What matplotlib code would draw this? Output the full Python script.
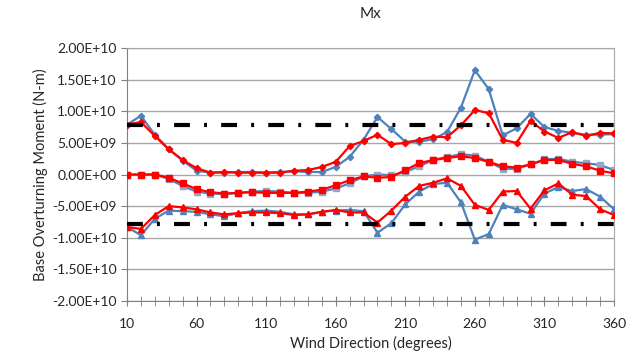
import numpy as np
import matplotlib.pyplot as plt
from matplotlib.ticker import FuncFormatter, MultipleLocator, FixedLocator

plt.rcParams['font.family'] = ['Lato', 'DejaVu Sans']

direction = list(range(10, 361, 10))

# maxima (diamonds)
max_blue = [7.9, 9.3, 6.3, 4.0, 2.2, 0.6, 0.3, 0.3, 0.4, 0.4, 0.3, 0.4,
            0.5, 0.4, 0.4, 1.2, 2.8, 5.5, 9.1, 7.2, 5.2, 5.2, 5.6, 6.7,
            10.6, 16.5, 13.5, 6.2, 7.3, 9.6, 7.5, 6.9, 6.6, 6.3, 6.3, 6.4]
max_red = [7.9, 8.3, 6.1, 4.0, 2.3, 1.0, 0.3, 0.4, 0.3, 0.3, 0.3, 0.3,
           0.6, 0.7, 1.2, 2.0, 4.5, 5.3, 6.3, 4.8, 5.0, 5.5, 6.0, 5.9,
           7.8, 10.2, 9.7, 5.5, 5.0, 8.5, 6.8, 5.8, 6.7, 6.1, 6.6, 6.5]

# means (squares)
mean_blue = [0.0, 0.0, 0.0, -0.7, -1.8, -2.7, -3.0, -3.1, -2.9, -2.7, -2.6, -2.7,
             -2.9, -2.9, -2.7, -2.2, -1.4, -0.3, 0.0, -0.1, 0.4, 1.3, 2.3, 2.8,
             3.2, 3.0, 2.0, 0.9, 0.9, 1.6, 2.4, 2.5, 2.0, 1.8, 1.5, 0.7]
mean_red = [0.0, 0.0, 0.0, -0.5, -1.4, -2.3, -2.8, -3.0, -2.9, -2.8, -2.9, -2.9,
            -2.9, -2.7, -2.4, -1.7, -0.9, -0.3, -0.5, -0.4, 0.7, 1.8, 2.3, 2.6,
            2.9, 2.6, 2.0, 1.3, 1.1, 1.6, 2.3, 2.3, 1.7, 1.3, 0.6, 0.2]

# minima (triangles)
min_blue = [-8.3, -9.6, -7.0, -5.7, -5.8, -5.9, -6.3, -6.6, -6.1, -5.8, -5.7, -5.9,
            -6.3, -6.3, -5.9, -5.7, -5.6, -5.8, -9.2, -7.7, -4.7, -2.7, -1.5, -1.3,
            -4.4, -10.3, -9.4, -4.8, -5.5, -6.2, -3.0, -2.0, -2.6, -2.3, -3.5, -5.5]
min_red = [-8.3, -8.6, -6.4, -5.0, -5.2, -5.5, -6.0, -6.3, -6.1, -6.0, -6.0, -6.1,
           -6.4, -6.3, -5.9, -5.6, -6.0, -6.0, -7.6, -5.7, -3.5, -1.8, -1.3, -0.6,
           -1.8, -4.8, -5.6, -2.7, -2.6, -5.4, -2.5, -1.4, -3.2, -3.4, -5.5, -6.4]

limit = 7.8  # design limit, x 1e9 N-m

x = np.array(direction)
scale = 1e9

fig = plt.figure(figsize=(6.33, 3.51), dpi=100)
ax = fig.add_axes([0.2006, 0.1425, 0.7694, 0.7205])

blue = '#4F81BD'
red = '#FF0000'

ax.plot(x, np.array(max_blue) * scale, '-', color=blue, lw=1.6, marker='D', ms=3.2, zorder=3)
ax.plot(x, np.array(max_red) * scale, '-', color=red, lw=1.6, marker='D', ms=3.2, zorder=4)
ax.plot(x, np.array(mean_blue) * scale, '-', color=blue, lw=1.6, marker='s', ms=5,
        mfc='#8EA9D0', mec='#8EA9D0', zorder=3)
ax.plot(x, np.array(mean_red) * scale, '-', color=red, lw=1.6, marker='s', ms=5, zorder=4)
ax.plot(x, np.array(min_blue) * scale, '-', color=blue, lw=1.6, marker='^', ms=4.5, zorder=3)
ax.plot(x, np.array(min_red) * scale, '-', color=red, lw=1.6, marker='^', ms=4.5, zorder=4)

dash = (0, (3.8, 3.4, 0.7, 3.4))
for s in (1, -1):
    ax.plot([x[0], x[-1]], [s * limit * scale] * 2, color='black', lw=3,
            linestyle=dash, dash_capstyle='butt', zorder=5)

ax.set_xlim(10, 360)
ax.set_ylim(-2e10, 2e10)
ax.yaxis.set_major_locator(MultipleLocator(5e9))
ax.yaxis.set_major_formatter(FuncFormatter(lambda v, p: '%.2E' % v))
ax.xaxis.set_major_locator(FixedLocator(list(range(10, 361, 50))))
ax.xaxis.set_minor_locator(MultipleLocator(10))
ax.grid(axis='y', color='#A6A6A6', lw=1)
ax.set_axisbelow(True)

for sp in ax.spines.values():
    sp.set_color('#A6A6A6')
ax.spines['bottom'].set_color('#808080')
ax.spines['left'].set_color('#808080')

ax.tick_params(axis='x', which='both', direction='inout', length=7, color='#808080',
               labelsize=10, pad=9, labelcolor='#262626')
ax.tick_params(axis='y', direction='out', length=4, color='#808080', labelsize=10,
               labelcolor='#262626')

ax.set_title('Mx', fontsize=11, pad=22, color='#262626')
ax.set_ylabel('Base Overturning Moment (N-m)', fontsize=10.5, labelpad=3, color='#262626')
ax.set_xlabel('Wind Direction (degrees)', fontsize=10.5, labelpad=4, color='#262626')

fig.savefig('out.png', dpi=100)
